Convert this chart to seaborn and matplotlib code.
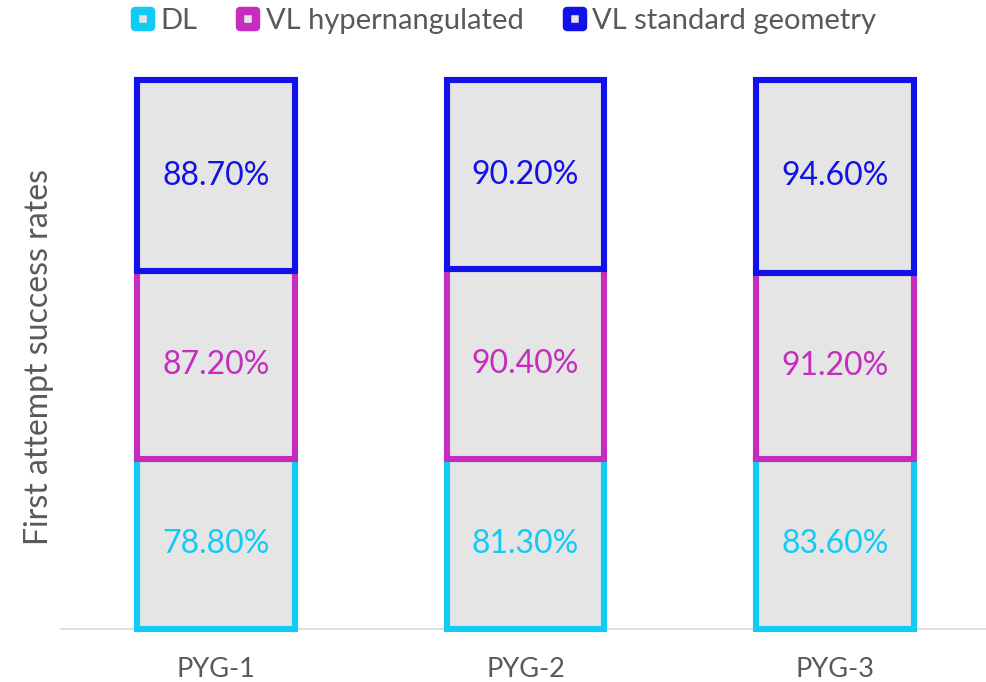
import matplotlib
matplotlib.use("Agg")
import matplotlib.pyplot as plt
from matplotlib.lines import Line2D
from matplotlib.markers import MarkerStyle
import numpy as np
import pandas as pd
import seaborn as sns

# Data
groups = ["PYG-1", "PYG-2", "PYG-3"]
series = ["DL", "VL hypernangulated", "VL standard geometry"]
dl = [78.8, 81.3, 83.6]
vl_hyper = [87.2, 90.4, 91.2]
vl_standard = [88.7, 90.2, 94.6]
colors = ["#12CBF5", "#C42DBE", "#1212E8"]
fill = "#E5E5E5"
text_grey = "#595959"

sns.set_theme(style="white")
plt.rcParams["font.family"] = ["Lato", "DejaVu Sans"]

df = pd.DataFrame({"group": groups, "DL": dl,
                   "VL hypernangulated": vl_hyper,
                   "VL standard geometry": vl_standard})
totals = df[series].sum(axis=1)
shares = df[series].div(totals, axis=0)

fig = plt.figure(figsize=(9.86, 6.82), dpi=100)
ax = fig.add_axes([61 / 986, 53 / 682, 929 / 986, 549 / 682])

bottom = np.zeros(len(groups))
for name, col in zip(series, colors):
    sns.barplot(x=df["group"], y=shares[name], bottom=bottom, ax=ax,
                color=fill, edgecolor=col, linewidth=4.4, width=0.51,
                saturation=1, clip_on=False, zorder=3)
    for i, (share, val) in enumerate(zip(shares[name], df[name])):
        ax.text(i, bottom[i] + share / 2, f"{val:.2f}%", ha="center",
                va="center", color=col, fontsize=23, zorder=4)
    bottom = bottom + shares[name].to_numpy()

ax.set_xlim(-0.5, 2.5)
ax.set_ylim(0, 1)
ax.set_yticks([])
ax.set_xlabel("")
ax.set_ylabel("First attempt success rates", fontsize=23, color=text_grey,
              va="center")
ax.yaxis.set_label_coords(-22 / 929, 0.495)
ax.tick_params(axis="x", length=0, pad=20, labelsize=19.5, labelcolor=text_grey)
for side in ["top", "right", "left"]:
    ax.spines[side].set_visible(False)
ax.spines["bottom"].set_color("#D9D9D9")
ax.spines["bottom"].set_linewidth(1.2)
ax.spines["bottom"].set_zorder(2)

square = MarkerStyle("s", joinstyle="round")
handles = [Line2D([], [], linestyle="none", marker=square, markersize=11.9,
                  markerfacecolor=fill, markeredgecolor=c, markeredgewidth=6.1)
           for c in colors]
fig.legend(handles, series, loc="center", ncol=3,
           bbox_to_anchor=(503 / 986, 1 - 21 / 682), frameon=False,
           fontsize=21, labelcolor=text_grey, handletextpad=0.15,
           columnspacing=1.3, handlelength=0.9)

fig.savefig("out.png", dpi=100)
